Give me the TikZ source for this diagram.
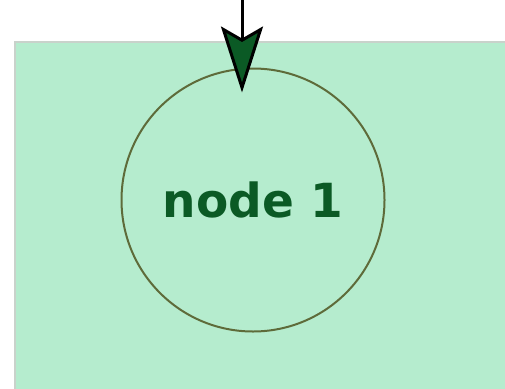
\documentclass[tikz,border=0pt]{standalone}
\usepackage{fontspec}
\setsansfont{DejaVu Sans}
\usepackage{xcolor}
\usetikzlibrary{arrows.meta,positioning}
\definecolor{panelgreen}{HTML}{B5ECCE}
\definecolor{panelrim}{HTML}{C9D2CB}
\definecolor{ringolive}{HTML}{5E6B3A}
\definecolor{labelgreen}{HTML}{0B5A25}
\tikzset{
  panel/.style={draw=panelrim, fill=panelgreen, line width=2pt, inner sep=0pt},
  state/.style={circle, draw=ringolive, line width=2pt, minimum size=263pt, inner sep=0pt,
    font=\sffamily\bfseries\fontsize{47}{50}\selectfont, text=labelgreen},
  arr/.style={-{Stealth[length=66pt, width=42pt, inset=12pt, fill=labelgreen]}, line width=3pt, draw=black},
}
\begin{document}
\begin{tikzpicture}[x=1pt, y=1pt]
\useasboundingbox (0,0) rectangle (505,-388);
% background panel
\node[panel, minimum width=495pt, minimum height=348pt, anchor=north west] (bg) at (13.5,-40.5) {};
% the state
\node[state] (n1) at (253,-200) {node 1};
\coordinate (src) at (242,0);
\draw[arr, shorten >=-25pt] (src) -- (src |- n1.north);
\end{tikzpicture}
\end{document}
